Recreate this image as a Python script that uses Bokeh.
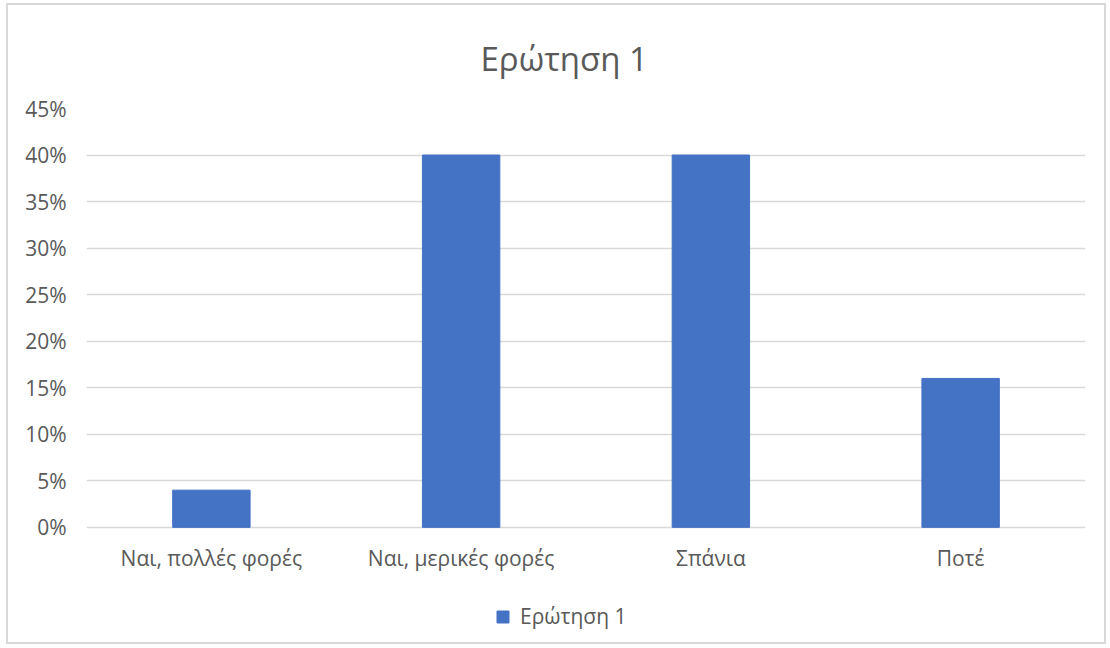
from bokeh.plotting import figure
from bokeh.models import ColumnDataSource, NumeralTickFormatter, FixedTicker, Legend, LegendItem, Range1d
from bokeh.core.properties import value
from bokeh.embed import file_html
from bokeh.resources import INLINE

categories = ["Ναι, πολλές φορές", "Ναι, μερικές φορές", "Σπάνια", "Ποτέ"]
values = [0.04, 0.40, 0.40, 0.16]
series_name = "Ερώτηση 1"
title_text = "Ερώτηση 1"
y_ticks = [0, 0.05, 0.10, 0.15, 0.20, 0.25, 0.30, 0.35, 0.40, 0.45]

FONT = "Open Sans"
TEXT = "#595959"
GRID = "#d9d9d9"
BAR = "#4472C4"

src = ColumnDataSource(dict(cat=categories, val=values, base=[0] * len(categories)))

p = figure(x_range=categories, width=1100, height=641, output_backend="svg",
           toolbar_location=None, title=title_text)
# extend the frame below zero so the category labels and legend sit inside it
p.y_range = Range1d(-0.128, 0.45)
p.min_border_left = 78
p.min_border_right = 23
p.min_border_top = 103
p.min_border_bottom = 0
p.outline_line_color = None
p.background_fill_color = "white"
p.border_fill_color = "white"
p.styles = {"border": "2px solid #d9d9d9", "margin-left": "6px", "margin-top": "3px"}

p.title.align = "left"
p.title.text_font = FONT
p.title.text_font_size = "33px"
p.title.text_font_style = "normal"
p.title.text_color = TEXT
p.title.standoff = 56
p.title.offset = 394

r = p.vbar(x="cat", top="val", width=0.31, source=src, color=BAR, line_color=BAR)

# category labels under the zero line
p.text(x="cat", y="base", text="cat", source=src, y_offset=31,
       text_align="center", text_baseline="middle",
       text_font=value(FONT), text_font_size="21px", text_color=TEXT)

p.xaxis.visible = False
p.yaxis.ticker = FixedTicker(ticks=y_ticks)
p.yaxis.formatter = NumeralTickFormatter(format="0%")
p.yaxis.axis_line_color = None
p.yaxis.major_tick_line_color = None
p.yaxis.minor_tick_line_color = None
p.yaxis.major_label_text_font = FONT
p.yaxis.major_label_text_font_size = "21px"
p.yaxis.major_label_text_color = TEXT
p.yaxis.major_label_standoff = 14

p.xgrid.grid_line_color = None
p.ygrid.grid_line_color = GRID
p.ygrid.grid_line_width = 1.5
p.ygrid.ticker = FixedTicker(ticks=y_ticks)

legend = Legend(items=[LegendItem(label=series_name, renderers=[r])],
                orientation="horizontal", location=(409, 16),
                label_text_font=FONT, label_text_font_size="21px",
                label_text_color=TEXT, glyph_width=15, glyph_height=15,
                label_standoff=10,
                border_line_color=None, background_fill_alpha=0,
                margin=0, padding=4)
p.add_layout(legend)

open("out.html", "w").write(file_html(p, INLINE))
